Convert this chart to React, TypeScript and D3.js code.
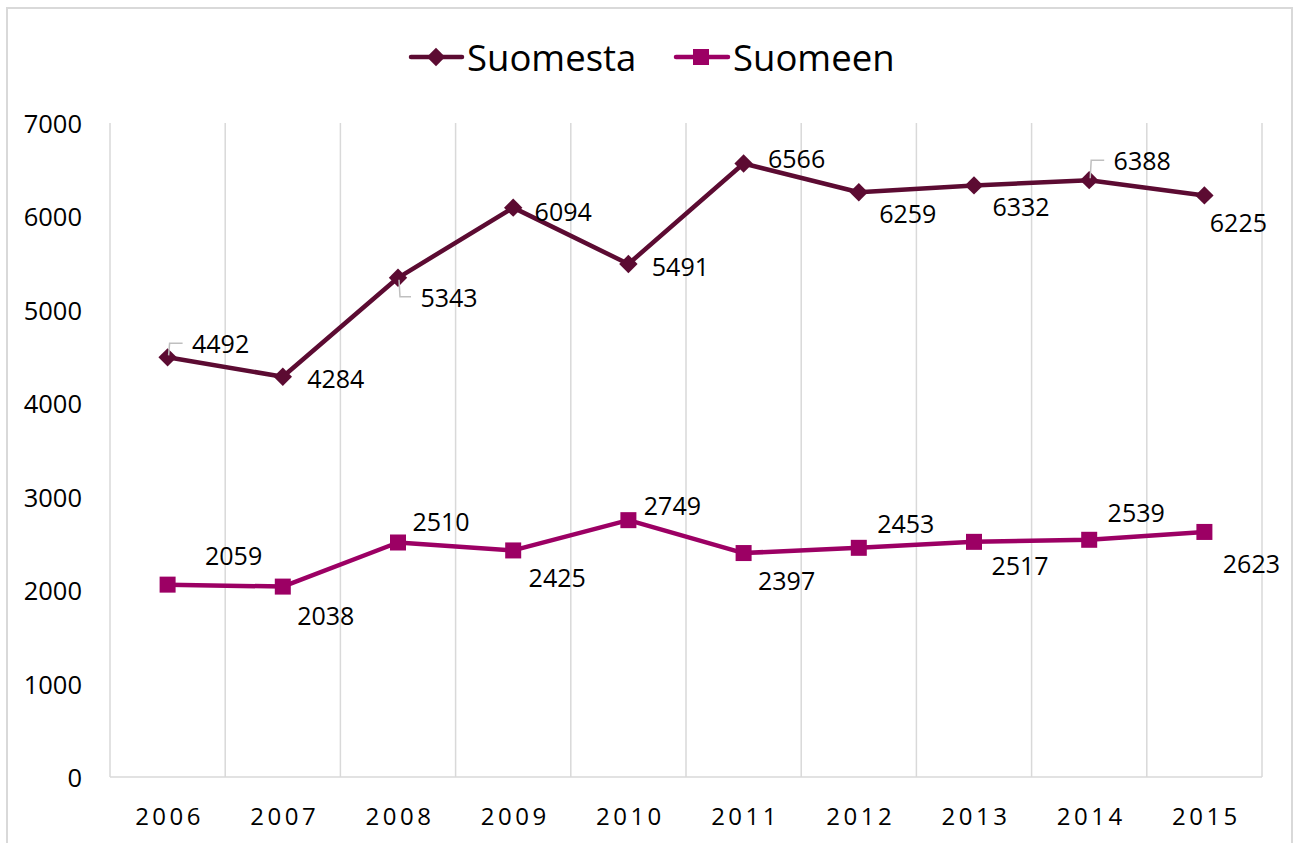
import React from "react";
import * as d3 from "d3";

const years = ["2006", "2007", "2008", "2009", "2010", "2011", "2012", "2013", "2014", "2015"];
const suomesta = [4492, 4284, 5343, 6094, 5491, 6566, 6259, 6332, 6388, 6225];
const suomeen = [2059, 2038, 2510, 2425, 2749, 2397, 2453, 2517, 2539, 2623];
const yTicks = [0, 1000, 2000, 3000, 4000, 5000, 6000, 7000];

// label placement (offsets from marker, px) and whether a leader line is drawn
const suomestaLabelOffsets: [number, number, boolean][] = [
  [53, -14, true], [53, 1, false], [51, 19, true], [50, 3, false], [52, 2, false],
  [53, -6, false], [49, 21, false], [47, 21, false], [53, -20, true], [34, 27, false],
];
const suomeenLabelOffsets: [number, number][] = [
  [66, -30], [43, 28], [43, -21], [44, 27], [44, -15],
  [43, 27], [47, -25], [46, 23], [47, -28], [47, 31],
];

const W = 1293;
const H = 843;
const margin = { left: 110, right: 1262, top: 123, bottom: 777 };
const C1 = "#5c0b32";
const C2 = "#9c0064";
const FONT = "'Open Sans', 'Noto Sans', sans-serif";

export default function App() {
  const x = d3.scaleBand<string>().domain(years).range([margin.left, margin.right]).padding(0);
  const y = d3.scaleLinear().domain([0, 7000]).range([margin.bottom, margin.top]);
  const cx = (i: number) => (x(years[i]) as number) + x.bandwidth() / 2;
  const line = d3
    .line<number>()
    .x((_, i) => cx(i))
    .y((d) => y(d));

  const boundaries = years.map((yr) => x(yr) as number).concat([margin.right]);

  return (
    <svg width={W} height={H} style={{ position: "absolute", left: 0, top: 0 }}>
      <rect x={0} y={0} width={W} height={H} fill="#fff" />
      <rect x={7} y={8} width={1285} height={H} fill="#fff" stroke="#d9d9d9" strokeWidth={2} />
      {/* vertical gridlines */}
      {boundaries.map((b, i) => (
        <line key={i} x1={b} x2={b} y1={margin.top} y2={margin.bottom} stroke="#d9d9d9" strokeWidth={1.5} />
      ))}
      <line x1={margin.left} x2={margin.right} y1={margin.bottom} y2={margin.bottom} stroke="#d9d9d9" strokeWidth={1.5} />
      {/* y axis labels */}
      {yTicks.map((t) => (
        <text key={t} x={82} y={y(t)} textAnchor="end" dominantBaseline="central" fontFamily={FONT} fontSize={25.5} fill="#000">
          {t}
        </text>
      ))}
      {/* x axis labels */}
      {years.map((yr, i) => (
        <text key={yr} x={cx(i) + 2} y={815} textAnchor="middle" dominantBaseline="central" fontFamily={FONT} fontSize={24} letterSpacing={3.5} fill="#000">
          {yr}
        </text>
      ))}
      {/* lines */}
      <path d={line(suomesta) as string} fill="none" stroke={C1} strokeWidth={4.5} strokeLinejoin="round" />
      <path d={line(suomeen) as string} fill="none" stroke={C2} strokeWidth={4.5} strokeLinejoin="round" />
      {/* markers */}
      {suomesta.map((v, i) => (
        <rect key={i} x={cx(i) - 6.5} y={y(v) - 6.5} width={13} height={13} fill={C1} transform={`rotate(45 ${cx(i)} ${y(v)})`} />
      ))}
      {suomeen.map((v, i) => (
        <rect key={i} x={cx(i) - 8} y={y(v) - 8} width={16} height={16} fill={C2} />
      ))}
      {/* labels */}
      {suomesta.map((v, i) => {
        const [dx, dy, leader] = suomestaLabelOffsets[i];
        const px = cx(i);
        const py = y(v);
        const lx = px + dx;
        const ly = py + dy;
        return (
          <g key={i}>
            {leader && (
              <polyline
                points={`${px + 1},${py + (dy < 0 ? -2 : 2)} ${px + 2},${ly} ${lx - 38},${ly}`}
                fill="none"
                stroke="#bfbfbf"
                strokeWidth={1.5}
              />
            )}
            <text x={lx} y={ly} textAnchor="middle" dominantBaseline="central" fontFamily={FONT} fontSize={25} fill="#000">
              {v}
            </text>
          </g>
        );
      })}
      {suomeen.map((v, i) => {
        const [dx, dy] = suomeenLabelOffsets[i];
        return (
          <text key={i} x={cx(i) + dx} y={y(v) + dy} textAnchor="middle" dominantBaseline="central" fontFamily={FONT} fontSize={25} fill="#000">
            {v}
          </text>
        );
      })}
      {/* legend */}
      <g>
        <line x1={411} x2={462} y1={57} y2={57} stroke={C1} strokeWidth={4.5} strokeLinecap="round" />
        <rect x={429.5} y={50.5} width={13} height={13} fill={C1} transform="rotate(45 436 57)" />
        <text x={467} y={57} dominantBaseline="central" fontFamily={FONT} fontSize={36.5} fill="#000">
          Suomesta
        </text>
        <line x1={676} x2={728} y1={57} y2={57} stroke={C2} strokeWidth={4.5} strokeLinecap="round" />
        <rect x={693} y={49} width={16} height={16} fill={C2} />
        <text x={733} y={57} dominantBaseline="central" fontFamily={FONT} fontSize={36.5} fill="#000">
          Suomeen
        </text>
      </g>
    </svg>
  );
}
